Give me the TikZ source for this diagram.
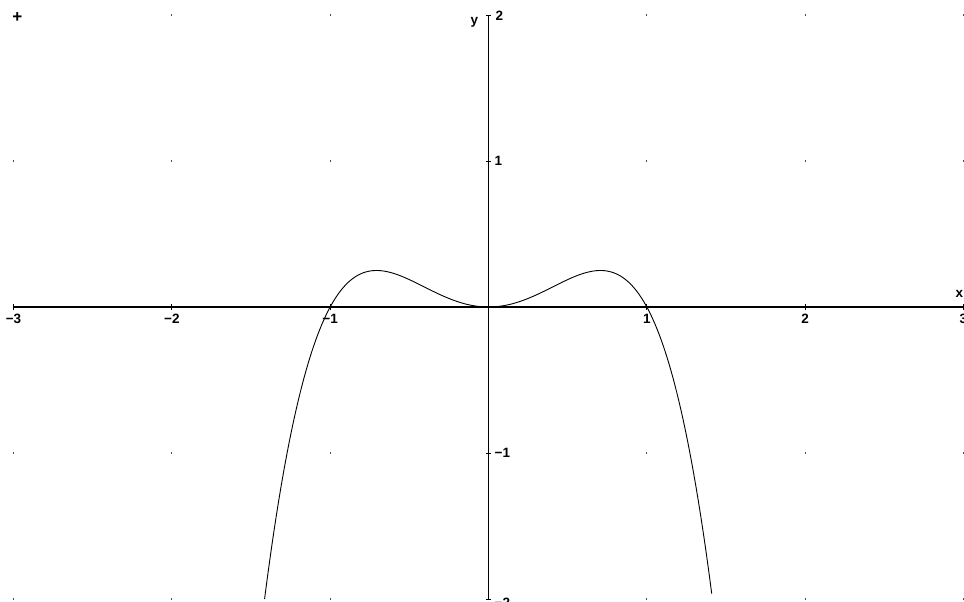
\documentclass[tikz,border=0pt]{standalone}
\usepackage{fontspec}
\setmainfont{Liberation Sans}
\begin{document}
\begin{tikzpicture}[x=158.33pt,y=146pt,
  axisline/.style={line width=1.3pt,black},
  tickmark/.style={line width=0.9pt,black},
  curveline/.style={line width=0.9pt,black},
  lbl/.style={font=\fontsize{13.5}{13.5}\selectfont\bfseries,inner sep=0pt},
  gdot/.style={fill=black!70,inner sep=0pt,minimum size=1.3pt,shape=rectangle}]
\useasboundingbox (-3.0853,-2.0205) rectangle (3.0032,2.1027);
\begin{scope}
\clip (-3.0853,-2.0205) rectangle (3.0032,2.1027);
% grid dots
\foreach \gx in {-3,-2,-1,1,2,3}{
  \foreach \gy in {-2,-1,1,2}{
    \ifnum\gx=-3 \ifnum\gy=2 \else \node[gdot] at (\gx,\gy) {};\fi
    \else \node[gdot] at (\gx,\gy) {};\fi
  }}
\node[lbl,font=\fontsize{17}{17}\selectfont\bfseries] (plus) at (-2.975,1.985) {+};
% axes
\coordinate (xl) at (-3,0);
\coordinate (xr) at (3,0);
\coordinate (yb) at (0,-2);
\coordinate (yt) at (0,2);
\draw[axisline] (xl) -- (xr);
\draw[axisline] (yb) -- (yt);
% ticks
\foreach \tx in {-3,-2,-1,1,2,3}{
  \draw[tickmark] (\tx,0) ++(0,-2.6pt) -- ++(0,5.2pt);}
\foreach \ty in {-2,-1,1,2}{
  \draw[tickmark] (0,\ty) ++(-2.6pt,0) -- ++(5.2pt,0);}
% tick labels
\node[lbl,anchor=north] (xm3) at ([yshift=-7pt]-3,0) {−3};
\node[lbl,anchor=north] (xm2) at ([yshift=-7pt]-2,0) {−2};
\node[lbl,anchor=north] (xm1) at ([yshift=-7pt]-1,0) {−1};
\node[lbl,anchor=north] (xp1) at ([yshift=-7pt]1,0) {1};
\node[lbl,anchor=north] (xp2) at ([yshift=-7pt]2,0) {2};
\node[lbl,anchor=north] (xp3) at ([yshift=-7pt]3,0) {3};
\node[lbl,anchor=west] (yp1) at ([xshift=6pt]0,1) {1};
\node[lbl,anchor=west] (ym1) at ([xshift=6pt]0,-1) {−1};
\node[lbl,anchor=west] (yp2) at ([xshift=7pt,yshift=-1pt]0,2) {2};
\node[lbl,anchor=west] (ym2) at ([xshift=6pt,yshift=-4pt]0,-2) {−2};
\node[lbl] (ylab) at ([xshift=-14pt,yshift=-7pt]0,2) {y};
\node[lbl] (xlab) at ([xshift=-4pt,yshift=13pt]3,0) {x};
% curve
\draw[curveline,samples=300,domain=-1.4142:1.4142,smooth] plot (\x,{\x*\x-\x*\x*\x*\x});
\end{scope}
\end{tikzpicture}
\end{document}
